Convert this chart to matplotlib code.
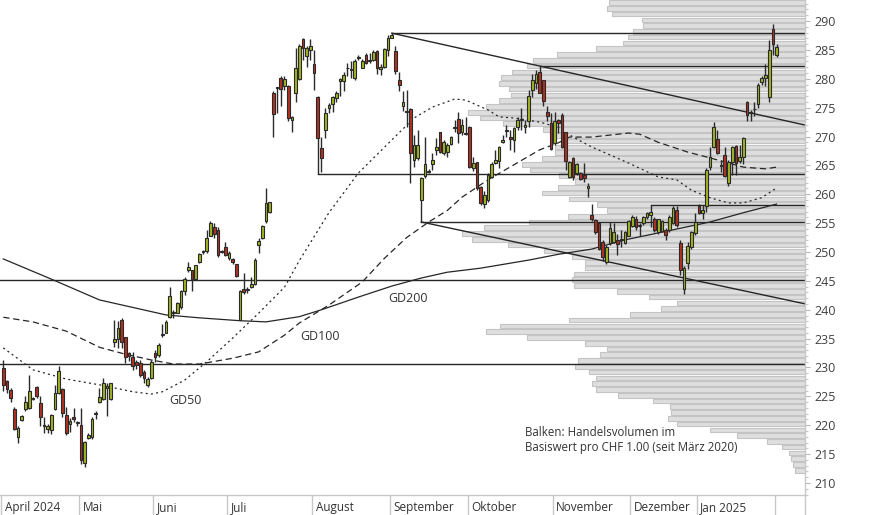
import matplotlib
matplotlib.use('Agg')
import matplotlib.pyplot as plt
import numpy as np
from matplotlib.transforms import blended_transform_factory
from matplotlib.lines import Line2D

plt.rcParams['font.family'] = ['Open Sans', 'DejaVu Sans']

# ---------------- data ----------------
opens = [229.9, 227.7, 226.1, 222.8, 218.0, 220.9, 222.8, 222.9, 224.6, 226.6,
         223.8, 220.0, 219.3, 219.1, 222.8, 225.5, 226.3, 221.7, 220.2, 221.4,
         220.4, 220.1, 213.4, 217.8, 217.9, 222.0, 224.0, 224.5, 226.5, 224.5,
         234.5, 234.9, 238.2, 235.2, 232.5, 231.8, 230.9, 230.8, 229.3, 227.0,
         228.1, 232.5, 232.2, 235.6, 236.0, 238.8, 239.6, 239.5, 240.5, 243.3,
         246.8, 246.8, 245.3, 248.2, 250.0, 250.1, 252.8, 254.4, 253.8, 250.1,
         250.8, 248.9, 248.8, 247.9, 238.3, 243.6, 243.5, 244.0, 244.5, 251.2,
         252.4, 255.3, 257.0, 277.5, 278.4, 280.1, 278.8, 278.7, 272.9, 277.5,
         279.9, 286.9, 284.0, 284.9, 282.5, 276.9, 268.0, 271.1, 274.9, 275.6,
         276.7, 279.6, 279.6, 281.8, 281.5, 280.1, 283.6, 281.9, 284.1, 283.0,
         283.2, 284.8, 281.7, 282.1, 285.0, 287.1, 284.8, 279.8, 275.2, 274.3,
         274.7, 266.0, 266.2, 259.0, 263.1, 264.0, 265.2, 267.6, 270.7, 267.2,
         267.4, 268.7, 271.5, 273.1, 270.7, 270.6, 271.7, 264.5, 265.5, 261.3,
         258.3, 259.0, 263.0, 265.4, 265.8, 269.1, 271.0, 270.0, 269.4, 271.6,
         272.8, 271.6, 272.6, 278.1, 279.3, 281.2, 279.7, 274.2, 272.3, 268.8,
         272.9, 273.7, 270.7, 263.0, 266.2, 263.6, 263.7, 263.3, 261.0, 256.4,
         255.6, 255.0, 251.8, 248.3, 251.6, 251.8, 252.0, 252.1, 251.6, 252.8,
         254.5, 255.8, 254.5, 255.0, 256.1, 256.4, 255.8, 253.5, 253.7, 253.8,
         253.8, 255.1, 257.2, 251.5, 243.6, 248.1, 250.9, 253.3, 258.0, 256.8,
         258.0, 264.8, 268.2, 269.6, 265.1, 266.8, 261.9, 265.5, 268.4, 265.8,
         266.5, 275.9, 274.2, 274.7, 275.6, 279.5, 280.2, 276.9, 288.7, 284.1]
highs = [231.3, 227.9, 226.4, 223.2, 219.9, 221.8, 225.0, 228.7, 224.9, 226.8,
         225.0, 221.5, 220.3, 222.0, 227.0, 230.2, 226.4, 223.2, 221.2, 223.0,
         220.8, 222.9, 217.2, 218.6, 221.5, 222.4, 226.4, 228.1, 227.3, 227.4,
         238.2, 238.1, 238.5, 235.3, 232.7, 232.6, 231.3, 231.3, 229.5, 228.4,
         231.3, 233.0, 234.2, 237.6, 238.2, 243.9, 240.0, 241.4, 243.4, 245.7,
         248.3, 246.9, 247.8, 249.9, 250.4, 253.8, 255.3, 255.1, 254.4, 250.4,
         251.8, 250.2, 248.9, 248.0, 243.4, 246.3, 244.0, 245.7, 248.9, 252.5,
         254.7, 261.0, 258.7, 277.8, 278.6, 280.4, 280.4, 279.0, 273.6, 285.3,
         286.1, 287.1, 285.6, 286.9, 285.0, 277.1, 270.0, 274.9, 275.8, 277.1,
         277.9, 280.1, 281.2, 282.8, 283.0, 283.5, 284.2, 283.5, 284.4, 284.4,
         285.0, 285.0, 282.5, 285.4, 287.5, 287.9, 285.6, 281.2, 277.8, 278.1,
         274.9, 270.3, 271.1, 263.0, 270.0, 264.3, 267.1, 269.7, 270.8, 269.4,
         268.8, 270.1, 272.9, 274.3, 273.1, 273.3, 271.8, 266.4, 265.6, 261.4,
         260.5, 263.6, 265.5, 267.7, 268.4, 270.3, 272.0, 271.1, 271.7, 273.4,
         274.9, 272.9, 278.1, 280.9, 281.5, 282.2, 279.8, 275.2, 274.0, 274.3,
         273.1, 274.1, 270.8, 265.7, 266.5, 265.4, 263.9, 265.4, 261.9, 258.3,
         255.7, 255.1, 252.1, 251.2, 255.2, 255.1, 253.2, 253.8, 253.7, 255.5,
         256.4, 256.2, 255.1, 256.2, 257.0, 258.1, 256.0, 255.8, 255.5, 254.1,
         256.4, 258.0, 258.0, 252.0, 247.6, 251.8, 253.7, 256.8, 258.3, 258.2,
         264.5, 268.2, 272.5, 271.1, 266.0, 268.2, 265.9, 268.4, 268.5, 268.5,
         270.0, 276.1, 274.6, 275.9, 279.2, 280.4, 282.5, 286.7, 289.4, 286.0]
lows = [226.0, 225.5, 224.1, 219.1, 216.9, 220.8, 222.4, 222.8, 224.3, 224.8,
        219.9, 218.6, 218.7, 218.4, 222.6, 225.4, 221.5, 218.3, 218.9, 220.6,
        219.8, 213.3, 212.8, 217.6, 217.7, 221.0, 223.8, 224.4, 221.6, 224.4,
        233.6, 233.3, 233.3, 230.7, 231.2, 229.6, 229.8, 228.4, 227.3, 226.7,
        228.0, 231.0, 231.9, 235.3, 235.9, 238.5, 238.6, 239.4, 240.2, 242.6,
        246.6, 243.3, 245.2, 248.1, 249.7, 249.9, 252.7, 252.4, 249.2, 249.8,
        249.3, 248.6, 248.0, 245.7, 238.2, 242.8, 242.9, 243.7, 244.3, 249.9,
        252.2, 255.0, 256.7, 270.0, 274.0, 275.2, 278.1, 272.6, 270.8, 276.0,
        279.8, 283.3, 282.1, 283.3, 278.1, 263.5, 263.9, 269.7, 274.0, 274.2,
        275.9, 277.1, 277.8, 280.4, 280.1, 279.8, 283.2, 281.8, 282.5, 282.8,
        283.1, 280.8, 280.7, 281.8, 284.0, 287.0, 280.9, 277.8, 274.4, 271.7,
        261.9, 264.8, 266.0, 255.2, 262.9, 263.6, 264.2, 266.8, 267.2, 266.8,
        266.4, 268.5, 270.8, 268.8, 270.3, 270.3, 264.5, 264.1, 260.7, 258.2,
        257.6, 258.7, 262.8, 265.3, 264.5, 268.8, 270.0, 267.7, 267.4, 271.1,
        271.1, 270.6, 271.7, 276.9, 278.3, 277.5, 275.2, 272.6, 267.7, 268.5,
        270.6, 268.0, 264.2, 262.8, 262.5, 263.3, 262.4, 262.2, 259.6, 255.4,
        253.2, 250.3, 248.5, 248.0, 251.2, 251.6, 249.5, 250.9, 251.4, 252.7,
        254.3, 253.8, 252.7, 254.7, 255.8, 254.3, 253.5, 253.2, 253.5, 252.1,
        253.5, 254.8, 254.3, 246.0, 242.8, 247.0, 250.5, 253.0, 256.5, 255.8,
        256.9, 264.2, 268.0, 266.9, 263.8, 263.0, 261.5, 263.3, 263.3, 265.4,
        265.2, 272.6, 272.6, 273.6, 275.0, 278.9, 278.8, 275.9, 284.1, 283.7]
closes = [227.0, 226.2, 224.8, 219.3, 219.5, 221.6, 224.1, 225.9, 224.7, 225.1,
          221.4, 219.9, 219.8, 221.8, 225.5, 229.4, 222.1, 218.6, 220.8, 221.1,
          220.4, 213.9, 217.1, 218.3, 221.1, 222.2, 224.9, 227.4, 226.8, 227.3,
          235.0, 236.8, 234.5, 231.8, 232.0, 230.3, 230.5, 228.7, 228.1, 228.0,
          230.9, 231.9, 233.9, 235.8, 237.8, 242.4, 239.4, 241.2, 243.3, 245.4,
          247.4, 245.3, 247.7, 249.7, 250.1, 252.5, 255.1, 253.2, 249.4, 250.0,
          249.4, 249.8, 248.3, 245.8, 243.2, 243.1, 243.6, 244.5, 248.7, 251.9,
          254.5, 258.4, 258.6, 273.9, 278.5, 278.2, 279.9, 273.2, 273.4, 281.8,
          285.7, 285.3, 285.3, 285.7, 281.0, 269.8, 266.3, 274.0, 275.5, 276.8,
          277.6, 279.9, 280.7, 281.9, 281.6, 283.1, 283.7, 283.1, 282.8, 283.2,
          284.7, 281.9, 282.1, 285.2, 287.0, 287.5, 281.3, 279.0, 276.0, 274.4,
          267.1, 268.5, 268.5, 262.8, 265.2, 263.9, 265.9, 268.1, 267.4, 269.1,
          268.5, 269.9, 271.6, 270.6, 272.0, 270.5, 264.8, 265.4, 261.0, 258.4,
          259.9, 263.3, 265.2, 265.9, 268.1, 269.4, 271.1, 269.5, 271.4, 272.8,
          273.0, 272.0, 277.0, 279.7, 280.9, 277.6, 276.2, 273.6, 267.8, 272.7,
          272.3, 268.1, 265.7, 265.5, 263.0, 265.2, 262.6, 262.9, 261.4, 255.7,
          253.5, 250.5, 249.1, 250.9, 254.1, 253.4, 251.4, 252.2, 253.5, 255.3,
          256.0, 254.4, 254.5, 256.0, 256.8, 257.0, 253.8, 255.7, 255.3, 253.0,
          256.1, 257.6, 254.6, 246.9, 247.2, 251.0, 253.5, 255.2, 256.8, 257.2,
          264.2, 266.5, 271.6, 267.1, 264.9, 263.2, 265.6, 268.2, 265.4, 266.5,
          269.8, 273.8, 274.1, 274.8, 279.0, 280.1, 280.7, 285.0, 286.0, 285.5]

month_labels = ['April 2024', 'Mai', 'Juni', 'Juli', 'August', 'September',
                'Oktober', 'November', 'Dezember', 'Jan 2025', '']
month_starts = [0, 21, 41, 61, 84, 105, 126, 149, 170, 188, 209]

gd50_idx = [0, 8, 17, 26, 35, 40, 43, 49, 55, 62, 69, 76, 80, 88, 96, 105, 111, 116,
            122, 125, 131, 134, 138, 145, 150, 154, 159, 169, 177, 182, 186, 191,
            196, 200, 205, 209]
gd50_val = [233.4, 229.6, 228.0, 227.0, 225.8, 225.4, 225.8, 227.8, 231.0, 235.1,
            239.4, 243.9, 248.5, 256.8, 263.7, 269.4, 273.2, 275.1, 276.5, 276.3,
            274.6, 273.4, 273.2, 272.5, 271.6, 269.9, 268.2, 265.4, 263.0, 262.5,
            260.7, 259.4, 258.5, 258.5, 259.4, 261.1]
gd100_idx = [0, 8, 17, 26, 33, 40, 46, 53, 62, 69, 76, 80, 88, 97, 103, 109, 115,
             120, 124, 131, 138, 145, 150, 153, 159, 169, 172, 177, 185, 191, 200,
             206, 209]
gd100_val = [238.7, 237.9, 236.3, 233.5, 232.3, 231.3, 230.6, 230.6, 231.6, 232.7,
             235.6, 237.7, 240.8, 244.8, 248.9, 252.5, 255.2, 257.2, 259.5, 262.5,
             265.1, 267.7, 268.9, 269.9, 269.9, 270.6, 270.4, 269.0, 267.3, 266.3,
             264.7, 264.4, 264.7]
gd200_idx = [0, 13, 26, 44, 53, 64, 71, 80, 86, 96, 105, 113, 120, 129, 142, 150,
             159, 168, 177, 191, 200, 209]
gd200_val = [248.8, 245.3, 241.7, 239.1, 238.6, 238.1, 237.9, 238.8, 240.0, 242.2,
             244.1, 245.5, 246.5, 247.2, 248.6, 249.6, 250.5, 252.1, 253.3, 255.2,
             256.8, 258.3]

# volume profile: price levels (CHF) and relative traded volume
vp_levels = list(range(212, 294))
vp_volume = [10, 12, 14, 16, 23, 38, 68, 95, 128, 137,
             134, 135, 152, 187, 209, 213, 209, 216, 230, 227,
             205, 198, 220, 278, 319, 305, 236, 175, 144, 128,
             156, 188, 231, 233, 231, 220, 220, 233, 261, 297,
             333, 343, 321, 276, 237, 198, 208, 236, 263, 247,
             230, 246, 275, 283, 263, 250, 250, 238, 255, 262,
             302, 325, 337, 319, 306, 294, 296, 306, 304, 293,
             278, 272, 248, 209, 182, 177, 172, 162, 163, 193,
             198, 196]

# support / resistance lines: (start index, level)
res_lines = [(105, highs[105]), (145, highs[145]), (85, lows[85]),
             (175, highs[175]), (113, lows[113])]
full_lines = [245.15, 230.6]
# trend lines through two anchor points
upper_trend = [(105, highs[105]), (145, highs[145])]
lower_trend = [(113, lows[113]), (162, lows[162])]

# ---------------- figure ----------------
W, H = 874, 515
fig = plt.figure(figsize=(W / 100, H / 100), dpi=100)
rect = [0, 20 / H, 805 / W, 495 / H]
axv = fig.add_axes(rect, zorder=0)
ax = fig.add_axes(rect, zorder=1)
ax.patch.set_alpha(0)

xmin, xmax = -0.892, 216.68
ymin, ymax = 207.92, 293.64

axv.barh(np.array(vp_levels) + 0.2, vp_volume, height=0.8, left=0,
         color='#dedede', edgecolor='#c4c4c4', linewidth=0.8)
axv.set_xlim(805, 0)
axv.set_ylim(ymin, ymax)
axv.axis('off')

ink = '#262626'
# lines
for s, lv in res_lines:
    ax.plot([s, xmax], [lv, lv], color=ink, lw=1.0, zorder=2)
for lv in full_lines:
    ax.plot([xmin, xmax], [lv, lv], color=ink, lw=1.0, zorder=2)
for (x0, y0), (x1, y1) in (upper_trend, lower_trend):
    sl = (y1 - y0) / (x1 - x0)
    ax.plot([x0, xmax], [y0, y0 + sl * (xmax - x0)], color=ink, lw=1.0, zorder=2)

ax.plot(gd50_idx, gd50_val, color=ink, lw=0.9, linestyle=(0, (1.6, 2.6)), zorder=2)
ax.plot(gd100_idx, gd100_val, color=ink, lw=0.9, linestyle=(0, (5, 3)), zorder=2)
ax.plot(gd200_idx, gd200_val, color=ink, lw=0.9, zorder=2)

# candles
o = np.array(opens); h = np.array(highs); l = np.array(lows); c = np.array(closes)
idx = np.arange(len(o))
up = c >= o
ax.vlines(idx, l, h, color='#2a2a2a', lw=1.0, zorder=3)
bottom = np.minimum(o, c)
height = np.maximum(np.abs(c - o), 0.15)
cols = np.where(up, '#a2b622', '#b3311f')
ax.bar(idx, height, bottom=bottom, width=0.72, color=cols,
       edgecolor='#2a2a2a', linewidth=0.8, zorder=4)

# texts
txt = '#333333'
ax.text(49.1, 224.3, 'GD50', ha='center', va='center', fontsize=9, color=txt)
ax.text(85.6, 235.45, 'GD100', ha='center', va='center', fontsize=9, color=txt)
ax.text(109.5, 241.95, 'GD200', ha='center', va='center', fontsize=9, color=txt)
ax.text(141.0, 218.66, 'Balken: Handelsvolumen im', ha='left', va='center',
        fontsize=8.3, color=txt)
ax.text(141.0, 216.06, 'Basiswert pro CHF 1.00 (seit März 2020)', ha='left',
        va='center', fontsize=8.3, color=txt)

# axes styling
ax.set_xlim(xmin, xmax)
ax.set_ylim(ymin, ymax)
for s in ['top', 'left']:
    ax.spines[s].set_visible(False)
for s in ['right', 'bottom']:
    ax.spines[s].set_color('#c8c8c8')
    ax.spines[s].set_linewidth(1.0)
ax.yaxis.tick_right()
ax.set_yticks(np.arange(210, 291, 5))
ax.set_yticks(np.arange(208, 294, 1), minor=True)
ax.tick_params(axis='y', which='major', length=3.6, width=0.8, color='#b8b8b8',
               labelsize=9, labelcolor='#404040', pad=3)
ax.tick_params(axis='y', which='minor', length=2.4, width=0.8, color='#c8c8c8')
ax.set_xticks(np.array(month_starts) - 0.5)
ax.set_xticklabels([])
ax.tick_params(axis='x', which='major', length=14.4, width=1.0, color='#c8c8c8')

tr = blended_transform_factory(ax.transData, ax.transAxes)
for s, lab in zip(month_starts, month_labels):
    ax.text(s - 0.5 + 0.9, -12.5 / 495, lab, transform=tr, ha='left', va='center',
            fontsize=8.5, color='#333333', clip_on=False)

fig.add_artist(Line2D([805 / W, 805 / W], [0, 20 / H], transform=fig.transFigure,
                      color='#c8c8c8', lw=1.0))

fig.savefig('out.png', dpi=100)
